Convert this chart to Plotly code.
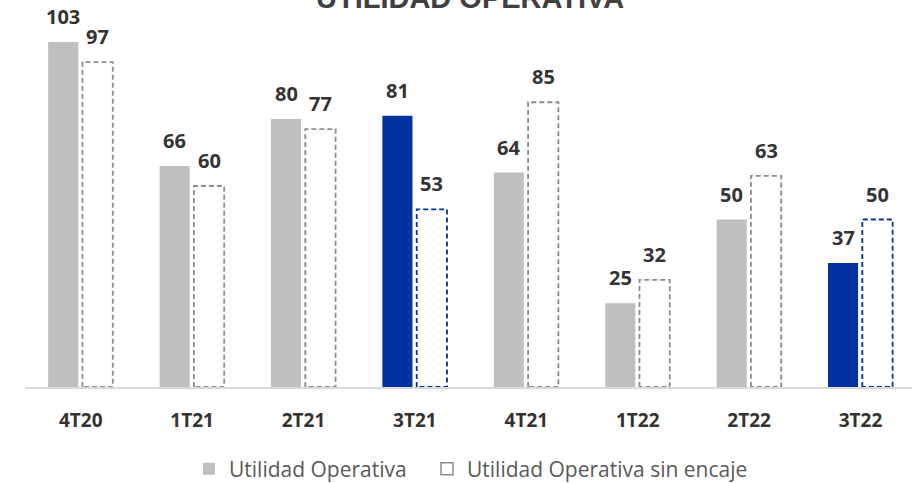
import plotly.graph_objects as go

categories = ["4T20", "1T21", "2T21", "3T21", "4T21", "1T22", "2T22", "3T22"]
utilidad = [103, 66, 80, 81, 64, 25, 50, 37]
sin_encaje = [97, 60, 77, 53, 85, 32, 63, 50]
highlight = ["3T21", "3T22"]

GRAY = "#BFBFBF"
BLUE = "#0033A0"
DASH_GRAY = "#8C8C8C"
TXT = "#333333"

idx = list(range(len(categories)))
fill_colors = [BLUE if c in highlight else GRAY for c in categories]
dash_colors = [BLUE if c in highlight else DASH_GRAY for c in categories]

G_OFF, G_W = -0.292, 0.27
D_OFF, D_W = 0.016, 0.272

fig = go.Figure()
fig.add_trace(go.Bar(x=idx, y=utilidad, offset=G_OFF, width=G_W,
                     marker=dict(color=fill_colors, line=dict(width=0)),
                     name="Utilidad Operativa", showlegend=True, legend="legend"))
fig.add_trace(go.Bar(x=idx, y=sin_encaje, offset=D_OFF, width=D_W,
                     marker=dict(color="white", line=dict(width=0)),
                     showlegend=False, hoverinfo="skip"))
for i, v, col in zip(idx, sin_encaje, dash_colors):
    x0, x1 = i + D_OFF, i + D_OFF + D_W
    fig.add_trace(go.Scatter(x=[x0, x0, x1, x1, x0], y=[0, v, v, 0, 0], mode="lines",
                             line=dict(color=col, width=1.8, dash="5px,3px"),
                             showlegend=False, hoverinfo="skip"))
fig.add_trace(go.Bar(x=[None], y=[None], name="Utilidad Operativa sin encaje", legend="legend2",
                     marker=dict(color="white", line=dict(color=DASH_GRAY, width=1.5))))

for i, v in zip(idx, utilidad):
    fig.add_annotation(x=i + G_OFF + G_W / 2, y=v, text=f"<b>{v}</b>", showarrow=False,
                       yanchor="bottom", yshift=10, font=dict(family="Open Sans", size=20, color=TXT))
for i, v in zip(idx, sin_encaje):
    fig.add_annotation(x=i + D_OFF + D_W / 2, y=v, text=f"<b>{v}</b>", showarrow=False,
                       yanchor="bottom", yshift=10, font=dict(family="Open Sans", size=20, color=TXT))

fig.add_annotation(xref="paper", yref="paper", x=0.502, y=1.01, yanchor="bottom",
                   text="<b>UTILIDAD OPERATIVA</b>", showarrow=False,
                   font=dict(family="Liberation Sans", size=29, color="#404040"))

legend_font = dict(family="Open Sans", size=21, color="#595959")
fig.update_layout(
    width=912, height=483,
    margin=dict(l=25, r=0, t=20, b=96, autoexpand=False),
    paper_bgcolor="white", plot_bgcolor="white",
    barmode="overlay",
    showlegend=True,
    legend=dict(orientation="h", x=0.1849, xanchor="left", y=-0.2234, yanchor="middle",
                font=legend_font, bgcolor="rgba(0,0,0,0)"),
    legend2=dict(orientation="h", x=0.4532, xanchor="left", y=-0.2234, yanchor="middle",
                 font=legend_font, bgcolor="rgba(0,0,0,0)"),
    xaxis=dict(range=[-0.5, 7.462], tickmode="array", tickvals=idx,
               ticktext=[f"<b>{c}</b>" for c in categories],
               tickfont=dict(family="Open Sans", size=19, color=TXT),
               showline=True, linecolor="#D9D9D9", linewidth=1.5,
               ticks="outside", ticklen=15, tickcolor="rgba(0,0,0,0)",
               showgrid=False, zeroline=False, fixedrange=True),
    yaxis=dict(range=[0, 109.55], visible=False, showgrid=False, zeroline=False, fixedrange=True),
)

fig.write_html("out.html", config={"displayModeBar": False},
               post_script="document.body.style.margin='0px';")
